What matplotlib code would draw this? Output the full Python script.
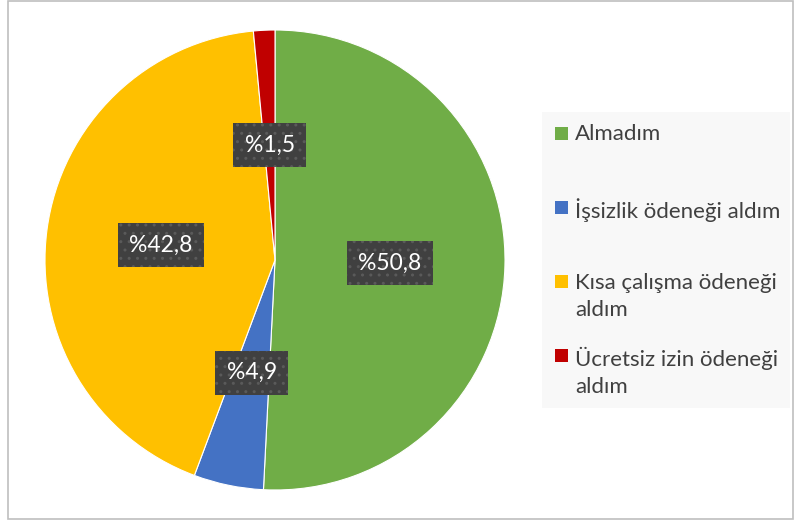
import matplotlib.pyplot as plt
from matplotlib.patches import Rectangle

# ----------- Data ------------
labels = ["Almadım", "İşsizlik ödeneği aldım", "Kısa çalışma ödeneği\naldım",
          "Ücretsiz izin ödeneği\naldım"]
values = [50.8, 4.9, 42.8, 1.5]
colors = ["#70AD47", "#4472C4", "#FFC000", "#C00000"]
# -----------------------------

plt.rcParams['font.family'] = ['Lato', 'DejaVu Sans']

W, H = 795, 522
fig = plt.figure(figsize=(W / 100, H / 100), dpi=100)
ax = fig.add_axes([0, 0, 1, 1])

# chart border
fig.patches.append(Rectangle((8 / W, 3 / H), 785 / W, 518 / H, transform=fig.transFigure,
                             facecolor='none', edgecolor='#bfbfbf', linewidth=1.2))


def fmt(pct):
    return "%" + f"{pct:.1f}".replace('.', ',')


wedges, texts, autotexts = ax.pie(
    values, colors=colors, startangle=90, counterclock=False,
    center=(275, 262), radius=230, autopct=fmt, pctdistance=0.5,
    wedgeprops=dict(edgecolor='white', linewidth=0.8), frame=True)
ax.set_xlim(0, W)
ax.set_ylim(0, H)
ax.set_aspect('equal')
ax.axis('off')

for t in autotexts:
    t.set_color('white')
    t.set_fontsize(16.5)
    t.set_bbox(dict(boxstyle='square,pad=0.5', facecolor='#404040',
                    edgecolor='#5a5a5a', hatch='..', linewidth=0))

# legend, laid out like Excel does it (entries evenly spaced by first line)
ax.add_patch(Rectangle((542, H - 408), 248, 296, facecolor='#f8f8f8',
                       edgecolor='none', zorder=3))
y0, step = 133, 74.3
for i, (lab, col) in enumerate(zip(labels, colors)):
    yc = y0 + i * step
    ax.add_patch(Rectangle((555, H - yc - 6.5), 13, 13, facecolor=col,
                           edgecolor='none', zorder=4))
    ax.text(575, H - yc + 9, lab, fontsize=16, color='#404040', va='top',
            ha='left', linespacing=1.45, zorder=4)

fig.savefig("out.png", dpi=100)
